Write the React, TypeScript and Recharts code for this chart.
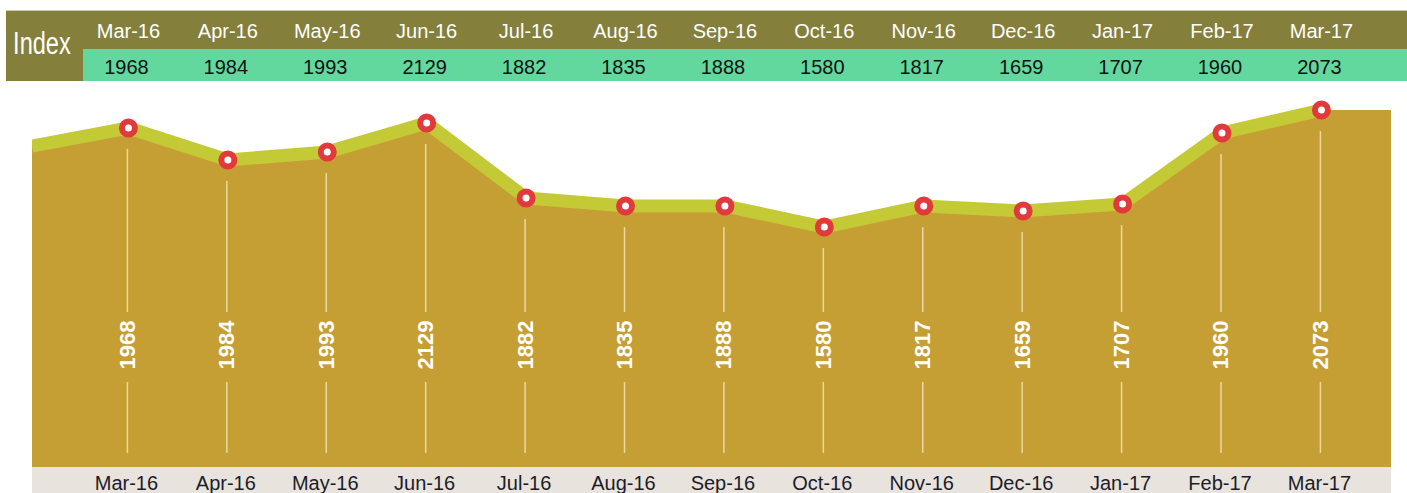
import { Area, ComposedChart, LabelList, Line, XAxis, YAxis } from "recharts"

const months = [
  "Mar-16", "Apr-16", "May-16", "Jun-16", "Jul-16", "Aug-16", "Sep-16",
  "Oct-16", "Nov-16", "Dec-16", "Jan-17", "Feb-17", "Mar-17",
]
const indexValues = [1968, 1984, 1993, 2129, 1882, 1835, 1888, 1580, 1817, 1659, 1707, 1960, 2073]
// height of the drawn curve at each month (the curve does not follow the index figures)
const lineLevels = [339, 307, 315, 344, 269, 261, 261, 240, 261, 256, 263, 334, 357]
const leftEdgeLevel = 321
const rightEdgeLevel = 357

const X_DOMAIN: [number, number] = [-0.97, 12.7]
const W = 1407
const H = 493
const TOP_AXIS_H = 67
const BOTTOM_AXIS_H = 26
const PLOT_LEFT = 32
const PLOT_RIGHT = 16
const PLOT_BOTTOM = H - BOTTOM_AXIS_H

const FONT = "'Liberation Sans', Arial, sans-serif"

const data = [
  { pos: X_DOMAIN[0], level: leftEdgeLevel, line: leftEdgeLevel },
  ...months.map((m, i) => ({
    pos: i,
    month: m,
    index: indexValues[i],
    level: lineLevels[i],
    line: lineLevels[i],
  })),
  { pos: X_DOMAIN[1], level: rightEdgeLevel },
]

const tickPositions = months.map((_, i) => i)

function HeaderTick(props: any) {
  const { x, y, payload } = props
  const i = payload.value
  return (
    <g>
      <text x={x} y={y - 29} textAnchor="middle" fill="#ffffff" fontSize={20} fontFamily={FONT}>
        {months[i]}
      </text>
      <text x={x - 2} y={y + 7} textAnchor="middle" fill="#111111" fontSize={20} fontFamily={FONT}>
        {indexValues[i]}
      </text>
    </g>
  )
}

function BottomTick(props: any) {
  const { x, payload } = props
  return (
    <text x={x - 2} y={PLOT_BOTTOM + 23} textAnchor="middle" fill="#1c1c28" fontSize={20} fontFamily={FONT}>
      {months[payload.value]}
    </text>
  )
}

function RingDot(props: any) {
  const { cx, cy, payload } = props
  if (!payload || payload.month === undefined) return <g />
  return <circle cx={cx} cy={cy} r={6.5} fill="#ffffff" stroke="#e03a3d" strokeWidth={6} />
}

function ValueLabel(props: any) {
  const vb = props.viewBox || {}
  const x = props.x ?? vb.x
  const y = props.y ?? vb.y
  const value = props.value
  if (value === undefined || value === null || x === undefined) return null
  const cy = PLOT_BOTTOM - 122
  return (
    <g>
      <line x1={x - 1} x2={x - 1} y1={y + 21} y2={PLOT_BOTTOM - 155} stroke="#ecd9a0" strokeWidth={1.5} />
      <line x1={x - 1} x2={x - 1} y1={PLOT_BOTTOM - 85} y2={PLOT_BOTTOM - 14} stroke="#ecd9a0" strokeWidth={1.5} />
      <text
        x={x - 1}
        y={cy}
        transform={`rotate(-90 ${x - 1} ${cy})`}
        textAnchor="middle"
        dominantBaseline="central"
        fill="#ffffff"
        fontSize={22}
        fontWeight="bold"
        fontFamily={FONT}
      >
        {value}
      </text>
    </g>
  )
}

export default function App() {
  return (
    <div style={{ position: "relative", width: W, height: H, overflow: "hidden" }}>
      <style>{`body{margin:0}`}</style>
      {/* header table backgrounds */}
      <div style={{ position: "absolute", left: 6, top: 10, width: W - 6, height: 39, background: "#84803c", borderTop: "1px solid #cfcdb0", boxSizing: "border-box" }} />
      <div style={{ position: "absolute", left: 83, top: 49, width: W - 83, height: 32, background: "#62d89f" }} />
      <div style={{ position: "absolute", left: 6, top: 10, width: 77, height: 71, background: "#84803c", borderTop: "1px solid #cfcdb0", boxSizing: "border-box" }} />
      <div
        style={{
          position: "absolute", left: 6, top: 10, width: 72, height: 67,
          display: "flex", alignItems: "center", justifyContent: "center",
          color: "#ffffff", fontFamily: FONT, fontSize: 31,
        }}
      >
        <span style={{ display: "inline-block", transform: "scaleX(0.76)" }}>Index</span>
      </div>
      {/* bottom axis band */}
      <div style={{ position: "absolute", left: PLOT_LEFT, top: PLOT_BOTTOM, width: W - PLOT_LEFT - PLOT_RIGHT, height: BOTTOM_AXIS_H, background: "#e9e3de" }} />
      <div style={{ position: "absolute", left: 0, top: 0 }}>
        <ComposedChart width={W} height={H} data={data} margin={{ top: 0, right: PLOT_RIGHT, bottom: 0, left: PLOT_LEFT }}>
          <XAxis
            xAxisId="top"
            orientation="top"
            type="number"
            dataKey="pos"
            domain={X_DOMAIN}
            allowDataOverflow
            ticks={tickPositions}
            height={TOP_AXIS_H}
            axisLine={false}
            tickLine={false}
            tickSize={0}
            tickMargin={0}
            tick={<HeaderTick />}
            interval={0}
          />
          <XAxis
            xAxisId="bottom"
            type="number"
            dataKey="pos"
            domain={X_DOMAIN}
            allowDataOverflow
            ticks={tickPositions}
            height={BOTTOM_AXIS_H}
            axisLine={false}
            tickLine={false}
            tickSize={0}
            tickMargin={0}
            tick={<BottomTick />}
            interval={0}
          />
          <YAxis hide domain={[0, 400]} allowDataOverflow />
          <Area
            xAxisId="bottom"
            type="linear"
            dataKey="level"
            fill="#c59e34"
            fillOpacity={1}
            stroke="none"
            dot={false}
            activeDot={false}
            isAnimationActive={false}
          />
          <Line
            xAxisId="bottom"
            type="linear"
            dataKey="line"
            stroke="#c4c936"
            strokeWidth={13}
            dot={<RingDot />}
            activeDot={false}
            isAnimationActive={false}
          >
            <LabelList dataKey="index" content={<ValueLabel />} />
          </Line>
        </ComposedChart>
      </div>
    </div>
  )
}
